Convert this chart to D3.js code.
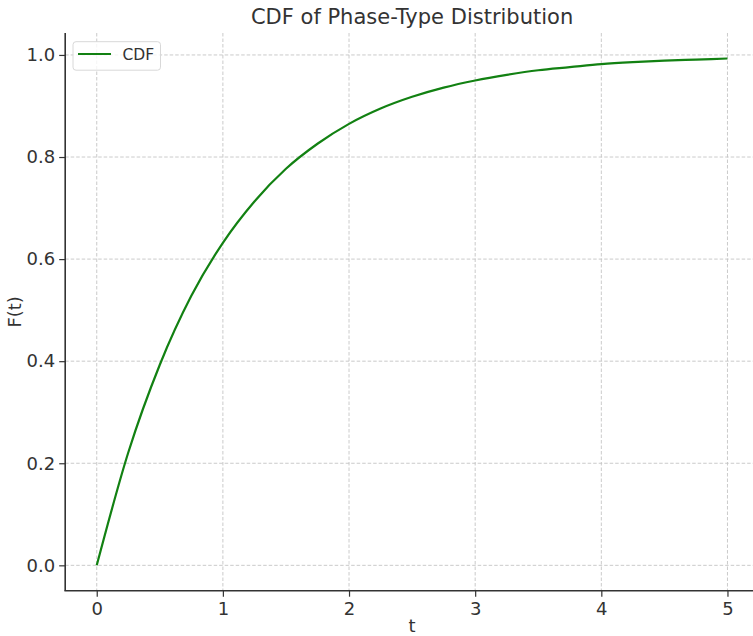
<!DOCTYPE html>
<html>
<head>
<meta charset="utf-8">
<script src="https://cdn.jsdelivr.net/npm/d3@7"></script>
<style>
  html, body { margin: 0; padding: 0; background: #fff; }
  svg { display: block; font-family: "DejaVu Sans", sans-serif; }
</style>
</head>
<body>
<svg id="chart" width="753" height="636"></svg>
<script>
// Sampled CDF values F(t)
const tValues = [0, 0.25, 0.5, 0.75, 1, 1.25, 1.5, 1.75, 2, 2.25, 2.5, 2.75, 3, 3.25, 3.5, 3.75, 4, 4.25, 4.5, 4.75, 5];
const cdfValues = [0, 0.221, 0.393, 0.528, 0.632, 0.713, 0.777, 0.826, 0.865, 0.895, 0.918, 0.936, 0.950, 0.961, 0.970, 0.976, 0.982, 0.986, 0.989, 0.991, 0.993];
const xTicks = [0, 1, 2, 3, 4, 5];
const yTicks = [0.0, 0.2, 0.4, 0.6, 0.8, 1.0];
const seriesName = "CDF";
const titleText = "CDF of Phase-Type Distribution";
const xLabel = "t";
const yLabel = "F(t)";

const svg = d3.select("#chart");
const plotLeft = 65.2, plotRight = 759, plotTop = 33, plotBottom = 590.7;

const x = d3.scaleLinear().domain([-0.25, 5.25]).range([plotLeft, plotRight]);
const y = d3.scaleLinear().domain([-0.0497, 1.043]).range([plotBottom, plotTop]);

const textColor = "#333";
const gridColor = "#c4c4c4";

// Grid
const grid = svg.append("g");
grid.selectAll("line.vx").data(xTicks).enter().append("line")
  .attr("x1", d => x(d)).attr("x2", d => x(d))
  .attr("y1", plotTop).attr("y2", plotBottom)
  .attr("stroke", gridColor).attr("stroke-width", 0.9).attr("stroke-dasharray", "3.5,2");
grid.selectAll("line.hy").data(yTicks).enter().append("line")
  .attr("y1", d => y(d)).attr("y2", d => y(d))
  .attr("x1", plotLeft).attr("x2", plotRight)
  .attr("stroke", gridColor).attr("stroke-width", 0.9).attr("stroke-dasharray", "3.5,2");

// Axes (ticks and labels), spines drawn separately
const xAxis = svg.append("g")
  .attr("transform", `translate(0,${plotBottom})`)
  .call(d3.axisBottom(x).tickValues(xTicks).tickFormat(d3.format("d")).tickSizeOuter(0).tickSize(6).tickPadding(4));
const yAxis = svg.append("g")
  .attr("transform", `translate(${plotLeft},0)`)
  .call(d3.axisLeft(y).tickValues(yTicks).tickFormat(d3.format(".1f")).tickSizeOuter(0).tickSize(6).tickPadding(4));

[xAxis, yAxis].forEach(g => {
  g.select(".domain").remove();
  g.selectAll(".tick line").attr("stroke", textColor).attr("stroke-width", 1.2);
  g.selectAll(".tick text").attr("fill", textColor)
    .style("font-family", "DejaVu Sans, sans-serif").style("font-size", "18px");
});
xAxis.selectAll(".tick text").attr("dy", "0.8em");

svg.append("line").attr("x1", plotLeft).attr("x2", plotLeft)
  .attr("y1", plotTop).attr("y2", plotBottom)
  .attr("stroke", textColor).attr("stroke-width", 1.6);
svg.append("line").attr("x1", plotLeft - 0.8).attr("x2", plotRight)
  .attr("y1", plotBottom).attr("y2", plotBottom)
  .attr("stroke", textColor).attr("stroke-width", 1.6);

// Curve
const line = d3.line()
  .x((d, i) => x(tValues[i]))
  .y(d => y(d))
  .curve(d3.curveMonotoneX);
svg.append("path")
  .datum(cdfValues)
  .attr("d", line)
  .attr("fill", "none")
  .attr("stroke", "#128112")
  .attr("stroke-width", 2.2);

// Title and axis labels
svg.append("text").attr("x", (plotLeft + plotRight) / 2).attr("y", 24)
  .attr("text-anchor", "middle").attr("fill", textColor)
  .style("font-size", "21px").text(titleText);
svg.append("text").attr("x", (plotLeft + plotRight) / 2).attr("y", 632)
  .attr("text-anchor", "middle").attr("fill", textColor)
  .style("font-size", "18px").text(xLabel);
svg.append("text")
  .attr("transform", `translate(21,${(plotTop + plotBottom) / 2}) rotate(-90)`)
  .attr("text-anchor", "middle").attr("fill", textColor)
  .style("font-size", "18px").text(yLabel);

// Legend
const lg = svg.append("g");
lg.append("rect").attr("x", 73).attr("y", 41.7).attr("width", 87.5).attr("height", 28.5)
  .attr("rx", 3).attr("fill", "#fff").attr("fill-opacity", 0.8)
  .attr("stroke", "#d8d8d8").attr("stroke-width", 1);
lg.append("line").attr("x1", 78).attr("x2", 111).attr("y1", 54).attr("y2", 54)
  .attr("stroke", "#128112").attr("stroke-width", 2.2);
lg.append("text").attr("x", 122.5).attr("y", 60).attr("fill", textColor)
  .style("font-size", "15.5px").text(seriesName);
</script>
</body>
</html>
